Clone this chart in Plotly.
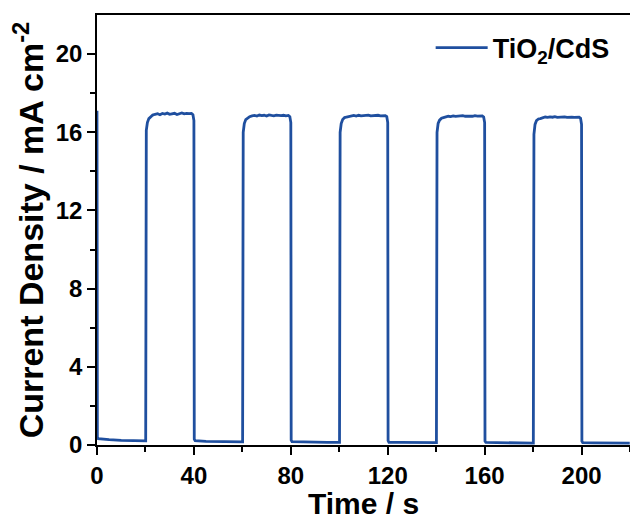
import plotly.graph_objects as go

# ---- data ----
# initial dark segment
t_start = [0.0, 0.15, 0.5, 2, 5, 10, 15, 19.9]
j_start = [17.1, 0.40, 0.32, 0.30, 0.27, 0.24, 0.22, 0.21]

light_on = [20, 60, 100, 140, 180]
light_off = [40, 80, 120, 160, 200]

# rising edge offsets (s after light on) and values
rise_dt = [0.1, 0.35, 0.8, 1.4, 2.2]
rise_j = [
    [0.21, 16.1, 16.5, 16.7, 16.82],
    [0.16, 16.0, 16.45, 16.65, 16.75],
    [0.13, 16.0, 16.45, 16.65, 16.75],
    [0.12, 16.0, 16.45, 16.62, 16.72],
    [0.10, 15.9, 16.4, 16.6, 16.68],
]
# plateau values sampled each second from 3 s to 19 s after light on
plateau_j = [
    [16.88, 16.92, 16.95, 16.90, 16.96, 16.93, 16.98, 16.92, 16.95, 16.97, 16.91, 16.96, 16.99, 16.94, 16.97, 16.95, 16.96],
    [16.80, 16.84, 16.86, 16.83, 16.88, 16.85, 16.87, 16.83, 16.89, 16.86, 16.84, 16.88, 16.86, 16.85, 16.87, 16.84, 16.86],
    [16.78, 16.82, 16.84, 16.86, 16.83, 16.87, 16.84, 16.86, 16.85, 16.88, 16.84, 16.86, 16.85, 16.87, 16.84, 16.86, 16.85],
    [16.75, 16.79, 16.82, 16.80, 16.84, 16.81, 16.83, 16.82, 16.85, 16.82, 16.84, 16.83, 16.82, 16.85, 16.83, 16.82, 16.84],
    [16.70, 16.75, 16.78, 16.76, 16.79, 16.77, 16.80, 16.76, 16.78, 16.77, 16.79, 16.76, 16.78, 16.77, 16.76, 16.78, 16.77],
]
plateau_dt = list(range(3, 20))
# falling edge offsets (s after light off) and values
fall_dt = [-0.4, 0.0, 0.15, 0.5]
fall_j = [
    [16.90, 16.6, 0.30, 0.22],
    [16.80, 16.5, 0.25, 0.17],
    [16.80, 16.5, 0.22, 0.14],
    [16.78, 16.5, 0.20, 0.13],
    [16.72, 16.4, 0.20, 0.12],
]
# dark current after light off, sampled at these offsets
dark_dt = [5, 10, 15, 19.9]
dark_j = [
    [0.19, 0.18, 0.17, 0.16],
    [0.15, 0.14, 0.13, 0.13],
    [0.13, 0.12, 0.12, 0.12],
    [0.12, 0.11, 0.11, 0.10],
    [0.11, 0.10, 0.10, 0.10],
]

x_ticks = [0, 40, 80, 120, 160, 200]
y_ticks = [0, 4, 8, 12, 16, 20]

# ---- assemble trace ----
t = list(t_start)
j = list(j_start)
for k in range(5):
    on, off = light_on[k], light_off[k]
    t += [on + d for d in rise_dt]
    j += rise_j[k]
    t += [on + d for d in plateau_dt]
    j += plateau_j[k]
    t += [off + d for d in fall_dt]
    j += fall_j[k]
    t += [off + d for d in dark_dt]
    j += dark_j[k]

color = "#1f4f9f"
font = "Liberation Sans, Arial, sans-serif"

fig = go.Figure()
fig.add_trace(go.Scatter(
    x=t, y=j, mode="lines", name="<b>TiO<sub>2</sub>/CdS</b>",
    line=dict(color=color, width=2.8),
))

fig.update_layout(
    width=630, height=520,
    margin=dict(l=97, r=0, t=15, b=75),
    paper_bgcolor="white", plot_bgcolor="white",
    font=dict(family=font, color="black"),
    showlegend=True,
    legend=dict(x=0.626, y=0.98, xanchor="left", yanchor="top",
                font=dict(size=27, family=font, color="black"),
                bgcolor="rgba(0,0,0,0)", itemwidth=52),
)
fig.update_xaxes(
    range=[0, 220], tickvals=x_ticks,
    ticktext=["<b>%d</b>" % v for v in x_ticks],
    ticks="outside", ticklen=8, tickwidth=1.5, tickcolor="black",
    minor=dict(tickvals=[20, 60, 100, 140, 180, 220], ticks="outside", ticklen=5, tickwidth=1.5, tickcolor="black"),
    showline=True, linecolor="black", linewidth=1.5, mirror=True,
    showgrid=False, zeroline=False, automargin=False,
    tickfont=dict(size=24, family=font, color="black"),
    title=dict(text="<b>Time / s</b>", font=dict(size=30, family=font, color="black"), standoff=7),
)
fig.update_yaxes(
    range=[0, 22], tickvals=y_ticks,
    ticktext=["<b>%d</b>" % v for v in y_ticks],
    ticks="outside", ticklen=8, tickwidth=1.5, tickcolor="black",
    minor=dict(tickvals=[2, 6, 10, 14, 18], ticks="outside", ticklen=5, tickwidth=1.5, tickcolor="black"),
    showline=True, linecolor="black", linewidth=1.5, mirror=False,
    showgrid=False, zeroline=False, automargin=False,
    tickfont=dict(size=24, family=font, color="black"),
    title=dict(text="<b>Current Density / mA cm<sup>-2</sup></b>", font=dict(size=34, family=font, color="black"), standoff=2),
)

fig.write_html("out.html", config={"displayModeBar": False},
               post_script="document.body.style.margin='0';document.body.style.overflow='hidden';")
